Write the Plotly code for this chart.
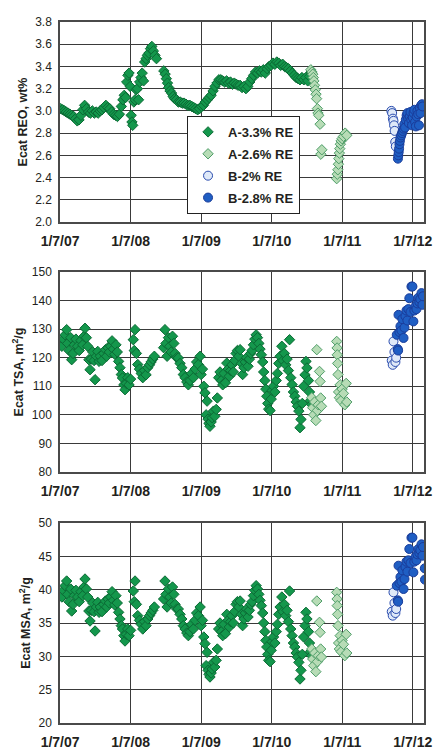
import plotly.graph_objects as go

# ---------------------------------------------------------------------------
# Ecat rare-earth oxide (REO), total surface area (TSA) and matrix surface
# area (MSA) for two units, A and B, at different catalyst RE levels.
# ---------------------------------------------------------------------------

# ---- Ecat REO, wt% ---------------------------------------------------------
reo_a33_dates = [
    "2007-01-10", "2007-01-20", "2007-01-30", "2007-02-08", "2007-02-18", "2007-02-27",
    "2007-03-08", "2007-03-18", "2007-03-28", "2007-04-06", "2007-04-15", "2007-04-25",
    "2007-05-05", "2007-05-14", "2007-05-24", "2007-06-03", "2007-06-13", "2007-06-23",
    "2007-07-03", "2007-07-13", "2007-07-23", "2007-08-02", "2007-08-12", "2007-08-22",
    "2007-09-01", "2007-09-11", "2007-09-21", "2007-10-01", "2007-10-11", "2007-10-21",
    "2007-10-31", "2007-11-10", "2007-11-20", "2007-11-28", "2007-12-05", "2007-12-12",
    "2007-12-18", "2007-12-24", "2007-12-30", "2008-01-05", "2008-01-10", "2008-01-14",
    "2008-01-18", "2008-01-24", "2008-01-30", "2008-02-05", "2008-02-11", "2008-02-17",
    "2008-02-23", "2008-03-01", "2008-03-07", "2008-03-14", "2008-03-20", "2008-03-27",
    "2008-04-03", "2008-04-11", "2008-04-19", "2008-04-26", "2008-05-04", "2008-05-12",
    "2008-05-20", "2008-06-27", "2008-07-04", "2008-07-10", "2008-07-16", "2008-07-22",
    "2008-07-29", "2008-08-06", "2008-08-14", "2008-08-22", "2008-08-31", "2008-09-10",
    "2008-09-20", "2008-09-30", "2008-10-10", "2008-10-20", "2008-10-30", "2008-11-09",
    "2008-11-19", "2008-11-29", "2008-12-09", "2008-12-19", "2008-12-29", "2009-01-08",
    "2009-01-18", "2009-01-28", "2009-02-07", "2009-02-17", "2009-02-27", "2009-03-09",
    "2009-03-19", "2009-03-29", "2009-04-08", "2009-04-18", "2009-04-28", "2009-05-08",
    "2009-05-18", "2009-05-28", "2009-06-07", "2009-06-17", "2009-06-27", "2009-07-07",
    "2009-07-17", "2009-07-27", "2009-08-06", "2009-08-16", "2009-08-26", "2009-09-05",
    "2009-09-15", "2009-09-25", "2009-10-05", "2009-10-15", "2009-10-25", "2009-11-04",
    "2009-11-14", "2009-11-24", "2009-12-04", "2009-12-14", "2009-12-24", "2010-01-03",
    "2010-01-13", "2010-01-23", "2010-02-02", "2010-02-12", "2010-02-22", "2010-03-04",
    "2010-03-14", "2010-03-24", "2010-04-03", "2010-04-13", "2010-04-23", "2010-05-03",
    "2010-05-13", "2010-05-23", "2010-06-02", "2010-06-12", "2010-06-22", "2010-07-02",
    "2010-07-12", "2010-07-22", "2010-07-30",
]
reo_a33 = [
    3.02, 3.01, 3.00, 2.99, 2.98, 2.97,
    2.96, 2.95, 2.93, 2.91, 2.92, 2.96,
    3.01, 3.05, 3.02, 2.99, 2.98, 3.00,
    2.98, 2.99, 2.98, 3.00, 3.01, 3.03,
    3.05, 3.03, 3.02, 2.99, 2.97, 2.96,
    2.95, 2.97, 3.04, 3.10, 3.14, 3.12,
    3.26, 3.32, 3.34, 3.22, 2.96, 2.90,
    2.87, 3.08, 3.10, 3.19, 3.20, 3.10,
    3.26, 3.30, 3.34, 3.27, 3.44, 3.47,
    3.50, 3.52, 3.56, 3.58, 3.54, 3.50,
    3.47, 3.36, 3.33, 3.29, 3.25, 3.21,
    3.18, 3.16, 3.13, 3.11, 3.10, 3.08,
    3.08, 3.07, 3.07, 3.06, 3.05, 3.05,
    3.04, 3.03, 3.02, 3.01, 3.02, 3.04,
    3.05, 3.08, 3.10, 3.12, 3.14, 3.18,
    3.22, 3.25, 3.28, 3.28, 3.27, 3.26,
    3.27, 3.25, 3.26, 3.24, 3.25, 3.24,
    3.23, 3.23, 3.21, 3.22, 3.20, 3.22,
    3.26, 3.29, 3.32, 3.35, 3.34, 3.36,
    3.35, 3.37, 3.34, 3.38, 3.40, 3.41,
    3.43, 3.42, 3.44, 3.43, 3.41, 3.42,
    3.40, 3.39, 3.38, 3.36, 3.34, 3.32,
    3.30, 3.29, 3.28, 3.30, 3.28, 3.30,
    3.27, 3.31, 3.35,
]

reo_a26_dates = [
    "2010-07-28", "2010-08-03", "2010-08-07", "2010-08-10", "2010-08-13", "2010-08-16",
    "2010-08-20", "2010-08-24", "2010-08-27", "2010-08-31", "2010-09-03", "2010-09-07",
    "2010-09-14", "2010-09-18", "2010-09-23",
    "2010-12-09", "2010-12-12", "2010-12-15", "2010-12-18", "2010-12-20", "2010-12-23",
    "2010-12-25", "2010-12-28", "2011-01-01", "2011-01-06", "2011-01-13", "2011-01-22",
    "2011-01-30",
]
reo_a26 = [
    3.37, 3.35, 3.33, 3.30, 3.27, 3.23,
    3.19, 3.15, 3.11, 3.02, 2.98, 2.96,
    2.88, 2.61, 2.65,
    2.39, 2.43, 2.47, 2.52, 2.57, 2.62,
    2.66, 2.70, 2.73, 2.75, 2.77, 2.80,
    2.78,
]

reo_b20_dates = ["2011-09-18", "2011-09-22", "2011-09-26", "2011-09-29",
                 "2011-10-02", "2011-10-05", "2011-10-08", "2011-10-11"]
reo_b20 = [3.00, 2.98, 2.93, 2.91, 2.87, 2.82, 2.72, 2.68]

reo_b28_dates = [
    "2011-10-22", "2011-10-24", "2011-10-26", "2011-10-28", "2011-10-30", "2011-11-01",
    "2011-11-04", "2011-11-08", "2011-11-12", "2011-11-16", "2011-11-20", "2011-11-24",
    "2011-11-28", "2011-12-02", "2011-12-06", "2011-12-10", "2011-12-14", "2011-12-18",
    "2011-12-22", "2011-12-26", "2011-12-30", "2012-01-03", "2012-01-07", "2012-01-11",
    "2012-01-15", "2012-01-19", "2012-01-23", "2012-01-27", "2012-01-31", "2012-02-04",
    "2012-02-08", "2012-02-12", "2012-02-16", "2012-02-20", "2012-02-24", "2012-02-27",
]
reo_b28 = [
    2.57, 2.60, 2.63, 2.66, 2.70, 2.73,
    2.76, 2.78, 2.80, 2.82, 2.84, 2.88,
    2.85, 2.92, 2.96, 2.98, 2.93, 2.89,
    2.95, 2.99, 2.92, 2.87, 2.94, 2.98,
    3.01, 2.90, 2.86, 2.95, 3.00, 2.97,
    2.87, 3.03, 2.98, 3.05, 3.06, 3.04,
]

# ---- Surface areas (TSA and MSA come from the same samples) -----------------
sa_a33_dates = [
    "2007-01-16", "2007-01-24", "2007-02-02", "2007-02-10", "2007-02-15", "2007-02-22",
    "2007-03-03", "2007-03-08", "2007-03-15", "2007-03-22", "2007-03-30", "2007-04-08",
    "2007-04-16", "2007-04-25", "2007-05-04", "2007-05-11", "2007-05-16", "2007-05-23",
    "2007-05-30", "2007-06-05", "2007-06-11", "2007-06-18", "2007-06-25", "2007-07-02",
    "2007-07-07", "2007-07-14", "2007-07-21", "2007-07-28", "2007-08-03", "2007-08-12",
    "2007-08-21", "2007-08-30", "2007-09-05", "2007-09-12", "2007-09-19", "2007-09-26",
    "2007-10-03", "2007-10-10", "2007-10-17", "2007-10-23", "2007-10-30", "2007-11-06",
    "2007-11-13", "2007-11-20", "2007-11-26", "2007-12-03", "2007-12-09", "2007-12-16",
    "2007-12-23", "2007-12-30", "2008-01-07", "2008-01-21", "2008-01-26", "2008-01-30",
    "2008-02-06", "2008-02-13", "2008-02-22", "2008-03-02", "2008-03-10", "2008-03-19",
    "2008-03-27", "2008-04-05", "2008-04-14", "2008-04-22", "2008-05-01", "2008-05-09",
    "2008-06-26", "2008-07-03", "2008-07-08", "2008-07-14", "2008-07-21", "2008-07-28",
    "2008-08-04", "2008-08-11", "2008-08-18", "2008-08-24", "2008-09-02", "2008-09-10",
    "2008-09-19", "2008-09-28", "2008-10-06", "2008-10-15", "2008-10-24", "2008-11-01",
    "2008-11-10", "2008-11-18", "2008-11-27", "2008-12-06", "2008-12-14", "2008-12-23",
    "2009-01-01", "2009-01-06", "2009-01-13", "2009-01-20", "2009-01-26", "2009-02-01",
    "2009-02-06", "2009-02-11", "2009-02-16", "2009-02-21", "2009-02-27", "2009-03-04",
    "2009-03-11", "2009-03-18", "2009-03-25", "2009-03-31", "2009-04-07", "2009-04-14",
    "2009-04-21", "2009-04-28", "2009-05-05", "2009-05-12", "2009-05-19", "2009-05-26",
    "2009-06-01", "2009-06-08", "2009-06-15", "2009-06-22", "2009-06-29", "2009-07-06",
    "2009-07-13", "2009-07-20", "2009-07-27", "2009-08-03", "2009-08-09", "2009-08-16",
    "2009-08-23", "2009-08-30", "2009-09-06", "2009-09-13", "2009-09-20", "2009-09-27",
    "2009-10-04", "2009-10-11", "2009-10-18", "2009-10-25", "2009-11-01", "2009-11-07",
    "2009-11-14", "2009-11-21", "2009-11-26", "2009-12-02", "2009-12-07", "2009-12-12",
    "2009-12-17", "2009-12-22", "2009-12-29", "2010-01-04", "2010-01-09", "2010-01-16",
    "2010-01-23", "2010-01-30", "2010-02-05", "2010-02-12", "2010-02-19", "2010-02-28",
    "2010-03-06", "2010-03-13", "2010-03-20", "2010-03-27", "2010-04-03", "2010-04-09",
    "2010-04-15", "2010-04-22", "2010-04-29", "2010-05-06", "2010-05-13", "2010-05-20",
    "2010-05-27", "2010-06-02", "2010-06-07", "2010-06-14", "2010-06-21", "2010-06-28",
    "2010-07-03", "2010-07-08", "2010-07-16", "2010-07-21", "2010-07-26", "2010-08-01",
]
tsa_a33 = [
    124.0, 126.5, 128.0, 129.8, 125.0, 122.5,
    127.0, 119.3, 121.5, 124.5, 126.5, 124.0,
    122.5, 126.0, 124.5, 127.5, 130.3, 127.0,
    124.0, 119.3, 115.8, 119.5, 122.0, 119.0,
    112.3, 120.5, 122.2, 118.7, 120.5, 119.0,
    121.5, 122.8, 120.5, 123.5, 122.0, 124.0,
    125.9, 123.0, 121.2, 124.5, 122.0, 118.7,
    116.5, 114.1, 112.9, 110.5, 108.8, 111.0,
    113.0, 110.5, 112.5, 126.3, 122.5, 129.8,
    121.5, 117.6, 116.0, 114.5, 113.0, 115.5,
    114.0, 116.5, 117.5, 118.5, 119.5, 120.5,
    123.5, 129.8, 125.0, 120.5, 127.0, 124.0,
    122.0, 127.5, 125.0, 121.5, 120.0, 119.9,
    118.0, 116.5, 114.1, 113.0, 111.5, 110.5,
    112.0, 114.5, 113.0, 116.0, 118.5, 117.6,
    120.5, 114.1, 116.0, 110.0, 107.7, 100.0,
    104.8, 98.5, 97.0, 96.0, 97.5, 99.0,
    101.3, 99.5, 101.9, 105.9, 113.0, 115.0,
    112.0, 110.5, 114.5, 111.2, 118.1, 116.0,
    113.5, 115.5, 117.5, 115.0, 119.0, 121.5,
    122.5, 120.5, 122.8, 118.0, 114.1, 116.5,
    118.5, 120.0, 117.0, 119.5, 121.5, 122.5,
    124.5, 126.5, 128.0, 127.0, 125.0, 123.0,
    121.0, 118.5, 115.0, 112.0, 109.0, 106.5,
    104.0, 102.0, 101.5, 105.5, 108.5, 110.0,
    108.0, 112.0, 114.5, 118.0, 120.5, 124.0,
    119.0, 121.5, 117.5, 119.5, 115.5, 126.3,
    113.0, 110.6, 108.0, 106.5, 104.5, 103.0,
    101.3, 95.5, 98.4, 104.0, 110.0, 114.0,
    118.7, 116.4, 112.0, 108.0, 105.0, 103.6,
]
msa_a33 = [
    38.9, 39.9, 40.6, 41.3, 39.3, 38.2,
    40.1, 36.8, 37.8, 39.1, 39.9, 38.9,
    38.2, 39.7, 39.1, 40.4, 41.6, 40.1,
    38.9, 36.8, 35.3, 36.9, 38.0, 36.7,
    33.8, 37.4, 38.1, 36.6, 37.4, 36.7,
    37.8, 38.3, 37.4, 38.6, 38.0, 38.9,
    39.7, 38.4, 37.7, 39.1, 38.0, 36.6,
    35.6, 34.6, 34.1, 33.1, 32.3, 33.3,
    34.1, 33.1, 33.9, 39.8, 38.2, 41.3,
    37.8, 36.1, 35.4, 34.8, 34.1, 35.2,
    34.6, 35.6, 36.1, 36.5, 36.9, 37.4,
    38.6, 41.3, 39.3, 37.4, 40.1, 38.9,
    38.0, 40.4, 39.3, 37.8, 37.1, 37.1,
    36.3, 35.6, 34.6, 34.1, 33.5, 33.1,
    33.7, 34.8, 34.1, 35.4, 36.5, 36.1,
    37.4, 34.6, 35.4, 32.9, 31.9, 28.6,
    30.6, 27.9, 27.3, 26.9, 27.5, 28.1,
    29.1, 28.4, 29.4, 31.1, 34.1, 35.0,
    33.7, 33.1, 34.8, 33.4, 36.3, 35.4,
    34.4, 35.2, 36.1, 35.0, 36.7, 37.8,
    38.2, 37.4, 38.3, 36.3, 34.6, 35.6,
    36.5, 37.1, 35.9, 36.9, 37.8, 38.2,
    39.1, 39.9, 40.6, 40.1, 39.3, 38.4,
    37.6, 36.5, 35.0, 33.7, 32.4, 31.4,
    30.3, 29.4, 29.2, 30.9, 32.2, 32.9,
    32.0, 33.7, 34.8, 36.3, 37.4, 38.9,
    36.7, 37.8, 36.1, 36.9, 35.2, 39.8,
    34.1, 33.1, 32.0, 31.4, 30.5, 29.9,
    29.1, 26.6, 27.9, 30.3, 32.9, 34.6,
    36.6, 35.6, 33.7, 32.0, 30.7, 30.1,
]

sa_a26_dates = [
    "2010-08-02", "2010-08-07", "2010-08-12", "2010-08-17", "2010-08-23", "2010-08-28",
    "2010-08-31", "2010-09-05", "2010-09-11", "2010-09-14", "2010-09-17", "2010-09-21",
    "2010-12-09", "2010-12-11", "2010-12-12", "2010-12-14", "2010-12-16", "2010-12-19",
    "2010-12-23", "2010-12-27", "2011-01-01", "2011-01-06", "2011-01-13", "2011-01-20",
    "2011-01-27", "2011-01-30",
]
tsa_a26 = [
    106.0, 102.5, 100.0, 104.5, 98.0, 122.8,
    101.5, 103.5, 115.2, 111.7, 105.9, 103.0,
    125.7, 123.4, 121.0, 118.0, 114.1, 108.0,
    106.0, 110.5, 105.0, 109.0, 107.5, 103.5,
    111.0, 104.5,
]
msa_a26 = [
    31.1, 29.6, 28.6, 30.5, 27.7, 38.3,
    29.2, 30.1, 35.1, 33.6, 31.1, 29.9,
    39.6, 38.6, 37.6, 36.3, 34.6, 32.0,
    31.1, 33.1, 30.7, 32.4, 31.8, 30.1,
    33.3, 30.5,
]

sa_b20_dates = ["2011-09-20", "2011-09-25", "2011-09-29", "2011-10-04", "2011-10-09", "2011-10-13"]
tsa_b20 = [119.0, 117.5, 125.7, 122.0, 118.5, 120.0]
msa_b20 = [36.7, 36.1, 39.6, 38.0, 36.5, 37.1]

sa_b28_dates = [
    "2011-10-16", "2011-10-21", "2011-10-23", "2011-10-25", "2011-10-30", "2011-11-04",
    "2011-11-09", "2011-11-14", "2011-11-20", "2011-11-25", "2011-11-30", "2011-12-05",
    "2011-12-10", "2011-12-15", "2011-12-20", "2011-12-26", "2011-12-31", "2012-01-05",
    "2012-01-10", "2012-01-15", "2012-01-21", "2012-01-26", "2012-01-31", "2012-02-05",
    "2012-02-10", "2012-02-15", "2012-02-21", "2012-02-26", "2012-02-29",
]
tsa_b28 = [
    128.0, 123.0, 122.5, 135.0, 129.0, 131.0,
    129.5, 133.5, 126.9, 130.5, 134.5, 136.5,
    133.0, 137.0, 140.8, 136.0, 144.9, 144.9,
    132.7, 136.5, 138.0, 137.0, 139.0, 141.0,
    139.5, 140.5, 142.6, 138.5, 141.5,
]
msa_b28_dates = sa_b28_dates + ["2012-03-09", "2012-03-10"]
msa_b28 = [
    40.6, 38.4, 38.2, 43.6, 41.0, 41.9,
    41.2, 42.9, 40.1, 41.6, 43.4, 44.2,
    42.7, 44.4, 46.1, 44.0, 47.8, 47.8,
    42.6, 44.2, 44.9, 44.4, 45.3, 46.1,
    45.5, 45.9, 46.8, 45.1, 46.4,
    43.2, 41.5,
]

# ---- Styling ---------------------------------------------------------------
FONT = "Liberation Sans, Arial, sans-serif"
INK = "#231f20"
GRID = "#3a3a3a"

series_style = {
    "A-3.3% RE": dict(symbol="diamond", size=8, color="#14974c", line="#0b6b35"),
    "A-2.6% RE": dict(symbol="diamond", size=8, color="#b7dcb6", line="#4e9d68"),
    "B-2% RE":   dict(symbol="circle", size=9, color="#dfe9f8", line="#2a4cae"),
    "B-2.8% RE": dict(symbol="circle", size=9, color="#1f5ec3", line="#1a3c9a"),
}

panels = [
    ("y", {
        "A-3.3% RE": (reo_a33_dates, reo_a33),
        "A-2.6% RE": (reo_a26_dates, reo_a26),
        "B-2% RE": (reo_b20_dates, reo_b20),
        "B-2.8% RE": (reo_b28_dates, reo_b28),
    }),
    ("y2", {
        "A-3.3% RE": (sa_a33_dates, tsa_a33),
        "A-2.6% RE": (sa_a26_dates, tsa_a26),
        "B-2% RE": (sa_b20_dates, tsa_b20),
        "B-2.8% RE": (sa_b28_dates, tsa_b28),
    }),
    ("y3", {
        "A-3.3% RE": (sa_a33_dates, msa_a33),
        "A-2.6% RE": (sa_a26_dates, msa_a26),
        "B-2% RE": (sa_b20_dates, msa_b20),
        "B-2.8% RE": (msa_b28_dates, msa_b28),
    }),
]

fig = go.Figure()
for i, (yref, series) in enumerate(panels):
    xref = "x" if i == 0 else f"x{i + 1}"
    for name, (dates, vals) in series.items():
        st = series_style[name]
        fig.add_trace(go.Scatter(
            x=dates, y=vals, name=name, mode="markers",
            xaxis=xref, yaxis=yref, showlegend=(i == 0), legendgroup=name,
            marker=dict(symbol=st["symbol"], size=st["size"], color=st["color"],
                        line=dict(color=st["line"], width=1)),
        ))

x_common = dict(
    range=["2007-01-06 12:00", "2012-03-05"],
    type="date", tick0="2007-01-07", dtick="M12", tickformat="%-m/%-d/%y",
    showgrid=True, gridcolor=GRID, gridwidth=1,
    showline=True, linecolor="#4a4a4a", linewidth=1.5, mirror=True,
    ticks="outside", ticklen=5, tickcolor="rgba(0,0,0,0)",
    ticklabeloverflow="allow",
    tickfont=dict(family=FONT, size=14, color=INK, weight="bold"),
    zeroline=False, fixedrange=True,
)
y_common = dict(
    showgrid=True, gridcolor=GRID, gridwidth=1,
    showline=True, linecolor="#4a4a4a", linewidth=1.5, mirror=True,
    ticks="outside", ticklen=4, tickcolor="rgba(0,0,0,0)",
    tickfont=dict(family=FONT, size=12, color=INK),
    zeroline=False, fixedrange=True,
)
title_font = dict(family=FONT, size=12.5, color=INK, weight="bold")

fig.update_layout(
    template="none",
    width=433, height=751,
    margin=dict(l=60, r=9, t=22, b=28),
    paper_bgcolor="white", plot_bgcolor="white",
    font=dict(family=FONT, color=INK),
    xaxis=dict(x_common, anchor="y", domain=[0, 1]),
    xaxis2=dict(x_common, anchor="y2", domain=[0, 1]),
    xaxis3=dict(x_common, anchor="y3", domain=[0, 1]),
    yaxis=dict(y_common, anchor="x", domain=[0.7147, 1.0], range=[2.0, 3.8],
               dtick=0.2, tickformat=".1f",
               title=dict(text="Ecat REO, wt%", font=title_font, standoff=5)),
    yaxis2=dict(y_common, anchor="x2", domain=[0.3581, 0.6434], range=[80, 150],
                dtick=10,
                title=dict(text="Ecat TSA, m<sup>2</sup>/g", font=title_font, standoff=5)),
    yaxis3=dict(y_common, anchor="x3", domain=[0.0, 0.2853], range=[20, 50],
                dtick=5,
                title=dict(text="Ecat MSA, m<sup>2</sup>/g", font=title_font, standoff=5)),
    legend=dict(
        x=0.349, y=0.866, xanchor="left", yanchor="top",
        bgcolor="white", bordercolor="#222222", borderwidth=1,
        font=dict(family=FONT, size=13, color=INK, weight="bold"),
        tracegroupgap=2, itemwidth=30,
        itemclick=False, itemdoubleclick=False,
    ),
    showlegend=True,
)

fig.write_html("out.html")
